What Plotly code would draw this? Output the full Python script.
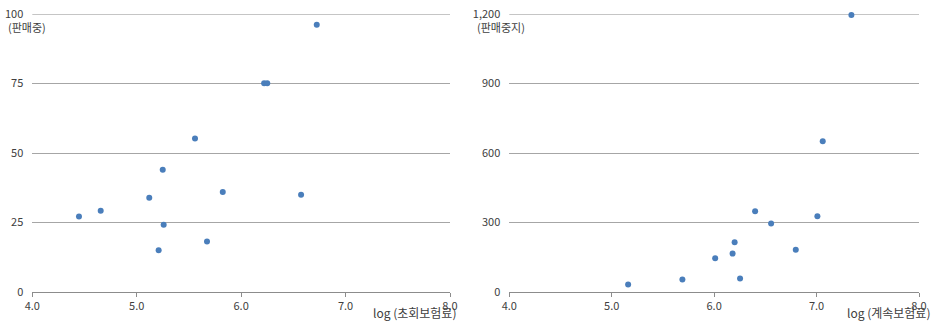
import plotly.graph_objects as go

# Left panel: 판매중
x_first = [4.447, 4.655, 5.12, 5.249, 5.258, 5.21, 5.824, 5.673, 6.574, 5.558, 6.22, 6.25, 6.724]
y_first = [27.2, 29.2, 33.9, 44.0, 24.2, 15.0, 36.0, 18.2, 35.0, 55.2, 75.1, 75.1, 96.1]

# Right panel: 판매중지
x_renew = [7.34, 7.06, 6.40, 7.008, 6.556, 6.20, 6.18, 6.01, 6.797, 6.253, 5.69, 5.16]
y_renew = [1196, 651, 349, 327, 296, 215, 166, 146, 182, 58, 54, 32]

x_ticks = [4.0, 5.0, 6.0, 7.0, 8.0]
y_ticks_left = [0, 25, 50, 75, 100]
y_ticks_right = [0, 300, 600, 900, 1200]

W, H = 934, 322
FONT = "Noto Sans CJK KR, Noto Sans, sans-serif"
MARK = "#4a7ebb"
GRID = "#a6a6a6"
AXIS = "#8c8c8c"
TXT = "#404040"

fig = go.Figure()
fig.add_trace(go.Scatter(x=x_first, y=y_first, mode="markers",
                         marker=dict(color=MARK, size=6), xaxis="x", yaxis="y",
                         showlegend=False, cliponaxis=False, hoverinfo="skip"))
fig.add_trace(go.Scatter(x=x_renew, y=y_renew, mode="markers",
                         marker=dict(color=MARK, size=6), xaxis="x2", yaxis="y2",
                         showlegend=False, cliponaxis=False, hoverinfo="skip"))

ydom = [(322 - 292) / H, (322 - 14) / H]
common_x = dict(range=[4, 8], tickvals=x_ticks, tickformat=".1f", showgrid=False,
                zeroline=False, showline=True, linecolor=AXIS, linewidth=1,
                ticks="outside", ticklen=4, tickcolor=AXIS, automargin=False,
                tickfont=dict(size=11, color=TXT, family=FONT), fixedrange=True)
common_y = dict(showgrid=True, gridcolor=GRID, gridwidth=1, zeroline=False,
                showline=False, ticks="", automargin=False,
                tickfont=dict(size=11, color=TXT, family=FONT),
                ticklabelstandoff=8, fixedrange=True)

# top gridlines (at the upper edge of each value axis)
shapes = [
    dict(type="line", xref="x domain", yref="y", x0=0, x1=1, layer="below",
         y0=y_ticks_left[-1], y1=y_ticks_left[-1], line=dict(color=AXIS, width=1)),
    dict(type="line", xref="x2 domain", yref="y2", x0=0, x1=1, layer="below",
         y0=y_ticks_right[-1], y1=y_ticks_right[-1], line=dict(color=AXIS, width=1)),
]

fig.update_layout(
    width=W, height=H, margin=dict(l=0, r=0, t=0, b=0, autoexpand=False),
    paper_bgcolor="white", plot_bgcolor="white",
    font=dict(family=FONT, color=TXT, size=11),
    hovermode=False,
    xaxis=dict(domain=[32.3 / W, 450 / W], anchor="y", **common_x),
    yaxis=dict(domain=ydom, anchor="x", range=[0, 100], tickvals=y_ticks_left, **common_y),
    xaxis2=dict(domain=[509.3 / W, 919 / W], anchor="y2", **common_x),
    yaxis2=dict(domain=ydom, anchor="x2", range=[0, 1200], tickvals=y_ticks_right,
                tickformat=",", **common_y),
    shapes=shapes,
    annotations=[
        dict(text="(판매중)", xref="paper", yref="paper", x=6 / W, y=(322 - 27) / H,
             xanchor="left", yanchor="middle", showarrow=False,
             font=dict(size=11, color=TXT, family=FONT)),
        dict(text="(판매중지)", xref="paper", yref="paper", x=475 / W, y=(322 - 27) / H,
             xanchor="left", yanchor="middle", showarrow=False,
             font=dict(size=11, color=TXT, family=FONT)),
        dict(text="log (초회보험료)", xref="paper", yref="paper", x=458 / W, y=(322 - 312) / H,
             xanchor="right", yanchor="middle", showarrow=False,
             font=dict(size=12, color=TXT, family=FONT)),
        dict(text="log (계속보험료)", xref="paper", yref="paper", x=932 / W, y=(322 - 312) / H,
             xanchor="right", yanchor="middle", showarrow=False,
             font=dict(size=12, color=TXT, family=FONT)),
    ],
)

fig.write_html("out.html", config={"displayModeBar": False, "staticPlot": True},
               post_script="document.body.style.margin='0';document.body.style.overflow='hidden';")
